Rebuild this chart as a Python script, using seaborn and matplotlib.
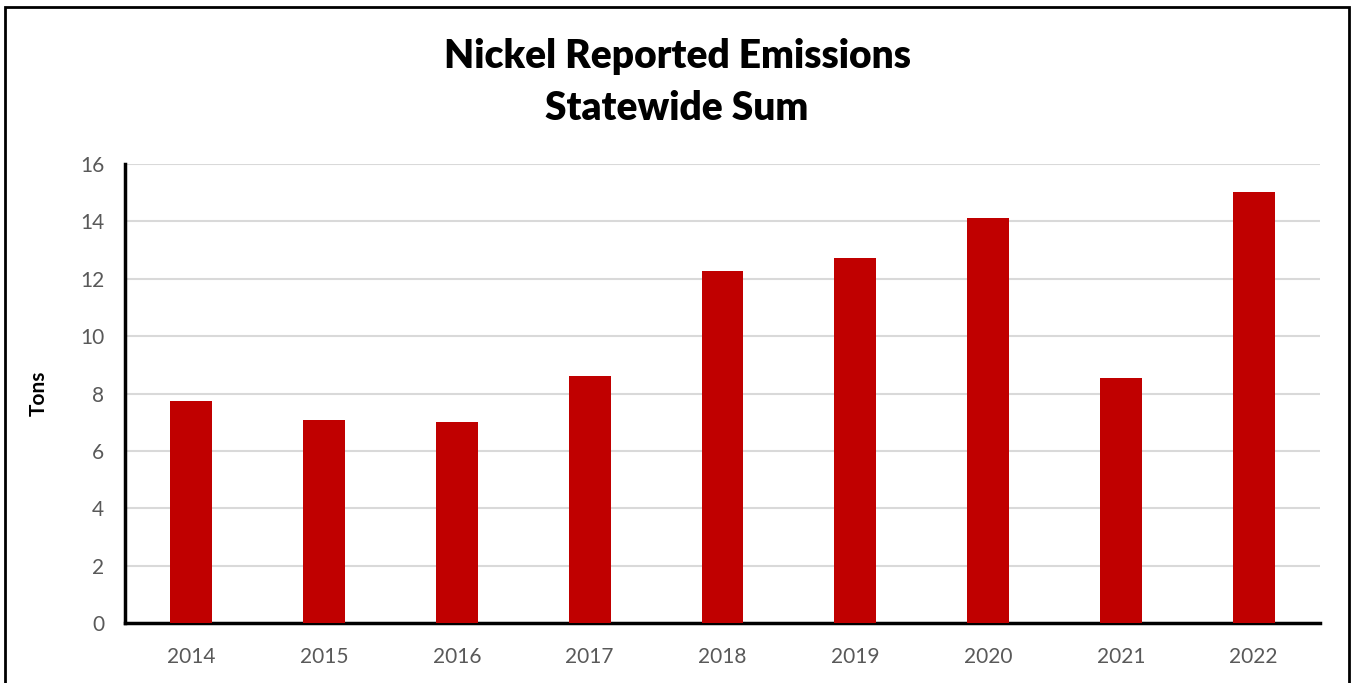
import matplotlib
matplotlib.use("Agg")
import matplotlib.pyplot as plt
import matplotlib.patches as patches
import seaborn as sns
import pandas as pd

years = ["2014", "2015", "2016", "2017", "2018", "2019", "2020", "2021", "2022"]
tons = [7.75, 7.06, 6.99, 8.62, 12.27, 12.73, 14.13, 8.55, 15.01]
y_ticks = [0, 2, 4, 6, 8, 10, 12, 14, 16]

sns.set_style("white")
plt.rcParams['font.family'] = ['Lato', 'DejaVu Sans']

df = pd.DataFrame({'Year': years, 'Tons': tons})

fig = plt.figure(figsize=(13.54, 6.83), dpi=100)
ax = fig.add_axes([0.0923, 0.0878, 0.8826, 0.6721])

sns.barplot(data=df, x='Year', y='Tons', color='#C00000', saturation=1,
            width=0.316, linewidth=0, ax=ax, zorder=3)

ax.set_ylim(0, 16)
ax.set_yticks(y_ticks)
ax.yaxis.grid(True, color='#d9d9d9', linewidth=1.5, zorder=0)
ax.set_axisbelow(True)
for s in ['top', 'right']:
    ax.spines[s].set_visible(False)
for s in ['left', 'bottom']:
    ax.spines[s].set_color('black')
    ax.spines[s].set_linewidth(2.5)
ax.tick_params(axis='both', length=0, labelsize=15, labelcolor='#595959')
ax.tick_params(axis='y', pad=15)
ax.tick_params(axis='x', pad=17)
ax.set_xlabel('')
ax.set_ylabel('Tons', fontsize=15, fontweight='bold', color='black')
ax.yaxis.set_label_coords(-0.064, 0.5)

fig.text(0.5, 0.917, 'Nickel Reported Emissions', ha='center', va='center',
         fontsize=28, fontweight='heavy', color='black')
fig.text(0.5, 0.841, 'Statewide Sum', ha='center', va='center',
         fontsize=28, fontweight='heavy', color='black')

border = patches.Rectangle((0.0037, -0.05), 0.9926, 1.04, transform=fig.transFigure,
                           fill=False, edgecolor='black', linewidth=2, clip_on=False)
fig.patches.append(border)

fig.savefig('out.png', dpi=100)
